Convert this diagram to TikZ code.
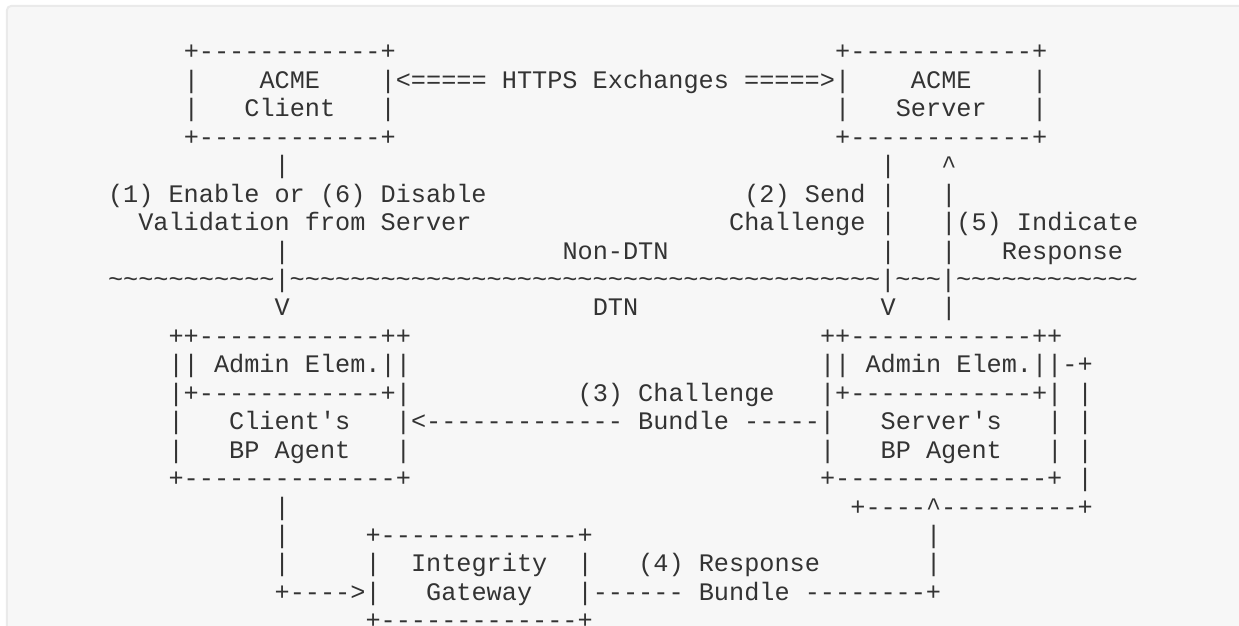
\documentclass[tikz,border=0pt]{standalone}
\usepackage{fontspec}
\setmonofont{Liberation Mono}
\definecolor{ink}{HTML}{333333}
\definecolor{paper}{HTML}{F7F7F7}
\definecolor{rim}{HTML}{EAEAEA}
\newcommand{\wavy}[1]{\foreach \n in {1,...,#1}{\string~}}

\begin{document}
\begin{tikzpicture}[x=7.575pt, y=-14.225pt,
  ascii/.style={anchor=base west, inner sep=0pt, outer sep=0pt, text=ink,
                font=\ttfamily\fontsize{12.62pt}{14pt}\selectfont}]
  \clip (-7.129,-2.104) rectangle (74.653,19.865);
  \fill[paper, draw=rim, line width=1pt, rounded corners=2pt] (-6.667,-1.893) rectangle (80,25);

  % ACME client and server
  \node[ascii] (cTop) at (5,0) {+------------+};
  \node[ascii] (sTop) at (48,0) {+------------+};
  \node[ascii] (cWallA) at (5,1) {|};
  \node[ascii] (cAcme) at (10,1) {ACME};
  \node[ascii] (https) at (18,1) {|<===== HTTPS Exchanges =====>|};
  \node[ascii] (sAcme) at (53,1) {ACME};
  \node[ascii] (sWallA) at (61,1) {|};
  \node[ascii] (cWallB) at (5,2) {|};
  \node[ascii] (cName) at (9,2) {Client};
  \node[ascii] (cWallC) at (18,2) {|};
  \node[ascii] (sWallB) at (48,2) {|};
  \node[ascii] (sName) at (52,2) {Server};
  \node[ascii] (sWallC) at (61,2) {|};
  \node[ascii] (cBot) at (5,3) {+------------+};
  \node[ascii] (sBot) at (48,3) {+------------+};

  % steps across the Non-DTN / DTN border
  \node[ascii] (cLineA) at (11,4) {|};
  \node[ascii] (sLineA) at (51,4) {|};
  \node[ascii] (rLineA) at (55,4) {\string^};
  \node[ascii] (stepOne) at (0,5) {(1) Enable or (6) Disable};
  \node[ascii] (stepTwo) at (42,5) {(2) Send};
  \node[ascii] (sLineB) at (51,5) {|};
  \node[ascii] (rLineB) at (55,5) {|};
  \node[ascii] (stepOneB) at (2,6) {Validation from Server};
  \node[ascii] (stepTwoB) at (41,6) {Challenge};
  \node[ascii] (sLineC) at (51,6) {|};
  \node[ascii] (stepFive) at (55,6) {|(5) Indicate};
  \node[ascii] (cLineB) at (11,7) {|};
  \node[ascii] (nonDtn) at (30,7) {Non-DTN};
  \node[ascii] (sLineD) at (51,7) {|};
  \node[ascii] (rLineC) at (55,7) {|};
  \node[ascii] (stepFiveB) at (59,7) {Response};
  \node[ascii] (border) at (0,8) {\wavy{11}|\wavy{39}|\wavy{3}|\wavy{12}};
  \node[ascii] (cArrow) at (11,9) {V};
  \node[ascii] (dtn) at (32,9) {DTN};
  \node[ascii] (sArrow) at (51,9) {V};
  \node[ascii] (rLineD) at (55,9) {|};

  % BP agents
  \node[ascii] (caTop) at (4,10) {++------------++};
  \node[ascii] (saTop) at (47,10) {++------------++};
  \node[ascii] (caAdmin) at (4,11) {|| Admin Elem.||};
  \node[ascii] (saAdmin) at (47,11) {|| Admin Elem.||-+};
  \node[ascii] (caSep) at (4,12) {|+------------+|};
  \node[ascii] (stepThree) at (31,12) {(3) Challenge};
  \node[ascii] (saSep) at (47,12) {|+------------+| |};
  \node[ascii] (caWallA) at (4,13) {|};
  \node[ascii] (caName) at (8,13) {Client's};
  \node[ascii] (bundleA) at (19,13) {|<------------- Bundle -----|};
  \node[ascii] (saName) at (51,13) {Server's};
  \node[ascii] (saWallA) at (62,13) {| |};
  \node[ascii] (caWallB) at (4,14) {|};
  \node[ascii] (caAgent) at (8,14) {BP Agent};
  \node[ascii] (caWallC) at (19,14) {|};
  \node[ascii] (saWallB) at (47,14) {|};
  \node[ascii] (saAgent) at (51,14) {BP Agent};
  \node[ascii] (saWallC) at (62,14) {| |};
  \node[ascii] (caBot) at (4,15) {+--------------+};
  \node[ascii] (saBot) at (47,15) {+--------------+ |};

  % integrity gateway
  \node[ascii] (cLineC) at (11,16) {|};
  \node[ascii] (loop) at (49,16) {+----\string^---------+};
  \node[ascii] (cLineD) at (11,17) {|};
  \node[ascii] (gTop) at (17,17) {+-------------+};
  \node[ascii] (rLineE) at (54,17) {|};
  \node[ascii] (cLineE) at (11,18) {|};
  \node[ascii] (gWallA) at (17,18) {|};
  \node[ascii] (gName) at (20,18) {Integrity};
  \node[ascii] (gWallB) at (31,18) {|};
  \node[ascii] (stepFour) at (35,18) {(4) Response};
  \node[ascii] (rLineF) at (54,18) {|};
  \node[ascii] (cFeed) at (11,19) {+---->|};
  \node[ascii] (gNameB) at (21,19) {Gateway};
  \node[ascii] (bundleB) at (31,19) {|------ Bundle --------+};
  \node[ascii] (gBot) at (17,20) {+-------------+};
\end{tikzpicture}
\end{document}
